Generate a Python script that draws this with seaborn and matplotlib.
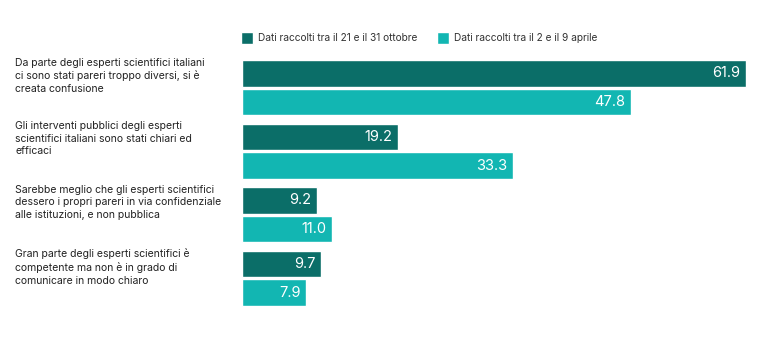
import matplotlib
matplotlib.use("Agg")
import matplotlib.pyplot as plt
import seaborn as sns
import pandas as pd
from matplotlib.patches import Patch

categories = [
    "Da parte degli esperti scientifici italiani\nci sono stati pareri troppo diversi, si è\ncreata confusione",
    "Gli interventi pubblici degli esperti\nscientifici italiani sono stati chiari ed\nefficaci",
    "Sarebbe meglio che gli esperti scientifici\ndessero i propri pareri in via confidenziale\nalle istituzioni, e non pubblica",
    "Gran parte degli esperti scientifici è\ncompetente ma non è in grado di\ncomunicare in modo chiaro",
]
series = ["Dati raccolti tra il 21 e il 31 ottobre", "Dati raccolti tra il 2 e il 9 aprile"]
values_oct = [61.9, 19.2, 9.2, 9.7]
values_apr = [47.8, 33.3, 11.0, 7.9]
colors = ["#0b6e68", "#12b6b2"]

sns.set_theme(style="white")
plt.rcParams["font.family"] = ["Inter", "DejaVu Sans"]

df = pd.DataFrame({
    "cat": categories * 2,
    "serie": [series[0]] * 4 + [series[1]] * 4,
    "val": values_oct + values_apr,
})

fig = plt.figure(figsize=(7.67, 3.47), dpi=100)
ax = fig.add_axes([242 / 767, 40 / 347, 525 / 767, 248 / 347])
sns.barplot(data=df, y="cat", x="val", hue="serie", orient="h",
            palette=colors, width=0.9, gap=0.07, saturation=1,
            ax=ax, legend=False)

ax.set_xlim(0, 525 / 8.14)
ax.set_ylim(3.45, -0.45)
ax.set_xlabel("")
ax.set_ylabel("")
ax.set_xticks([])
ax.set_yticks([])
for s in ax.spines.values():
    s.set_visible(False)

for cont in ax.containers:
    labs = ax.bar_label(cont, labels=[f"{v:.1f}" for v in cont.datavalues],
                        label_type="edge", padding=-4, color="white", fontsize=10.5)
    for t in labs:
        t.set_horizontalalignment("right")

for i, c in enumerate(categories):
    ax.text(-227 / 8.14, i - 0.45 - 0.02, c, ha="left", va="top",
            fontsize=7.5, color="#222222", linespacing=1.32,
            transform=ax.transData, clip_on=False)

handles = [Patch(facecolor=colors[0]), Patch(facecolor=colors[1])]
fig.legend(handles, series, loc="center left", bbox_to_anchor=(237 / 767, 1 - 38 / 347),
           ncol=2, frameon=False, fontsize=7.3, handlelength=1.2, handleheight=1.4,
           handletextpad=0.5, columnspacing=1.9, borderaxespad=0,
           labelcolor="#333333")

fig.savefig("out.png", dpi=100)
